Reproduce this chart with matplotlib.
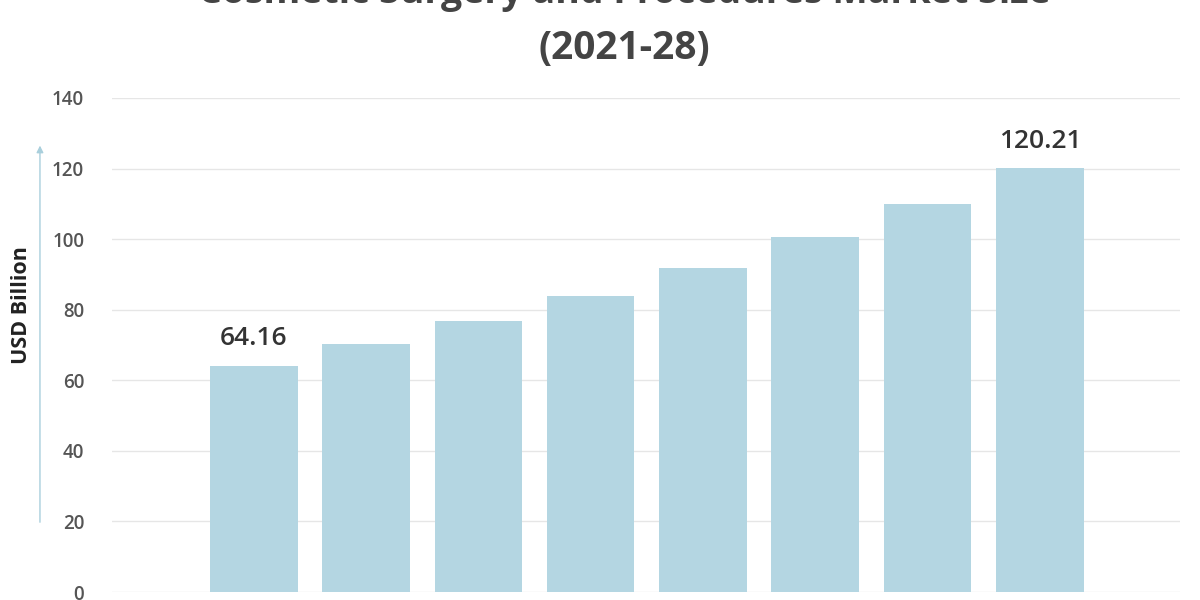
import matplotlib
matplotlib.use("Agg")
import matplotlib.pyplot as plt

years = ["2021", "2022", "2023", "2024", "2025", "2026", "2027", "2028"]
market_size = [64.16, 70.2, 76.8, 84.0, 91.9, 100.6, 110.0, 120.21]
labelled = {0: "64.16", 7: "120.21"}
y_ticks = [0, 20, 40, 60, 80, 100, 120, 140]

plt.rcParams['font.family'] = ['Open Sans', 'DejaVu Sans']

fig = plt.figure(figsize=(12, 6), dpi=100)
ax = fig.add_axes([0.0933, 0.0133, 0.8897, 0.8234])

x = list(range(len(years)))
ax.bar(x, market_size, width=0.78, color='#b4d6e2', zorder=2)

for i, txt in labelled.items():
    ax.text(i, market_size[i] + 4, txt, ha='center', va='bottom',
            fontsize=19, fontweight='semibold', color='#333333')

ax.set_ylim(0, 140)
ax.set_xlim(-1.264, 8.245)
ax.set_yticks(y_ticks)
ax.set_xticks(x)
# year labels sit below the cropped bottom edge, as in the reference
ax.set_xticklabels(years, fontsize=12, color='#555555')
ax.tick_params(axis='x', length=0, pad=14)
ax.tick_params(axis='y', length=0, pad=20, labelsize=13.5, labelcolor='#555555')
for lbl in ax.get_yticklabels():
    lbl.set_fontweight('semibold')
ax.grid(axis='y', color='#e6e6e6', linewidth=1, zorder=0)
for s in ax.spines.values():
    s.set_visible(False)

# y-axis arrow
fig.add_artist(matplotlib.patches.FancyArrowPatch(
    (0.0333, 0.125), (0.0333, 0.762), transform=fig.transFigure,
    arrowstyle='-|>', mutation_scale=10, color='#a9cfdc', linewidth=1))
fig.text(0.0183, 0.492, "USD Billion", rotation=90, ha='center', va='center',
         fontsize=15.5, fontweight='bold', color='#222222')

fig.text(0.52, 1.012, "Cosmetic Surgery and Procedures Market Size",
         ha='center', va='center', fontsize=27, fontweight='bold', color='#444444')
fig.text(0.52, 0.92, "(2021-28)", ha='center', va='center',
         fontsize=28, fontweight='bold', color='#444444')

fig.savefig("out.png", dpi=100)
